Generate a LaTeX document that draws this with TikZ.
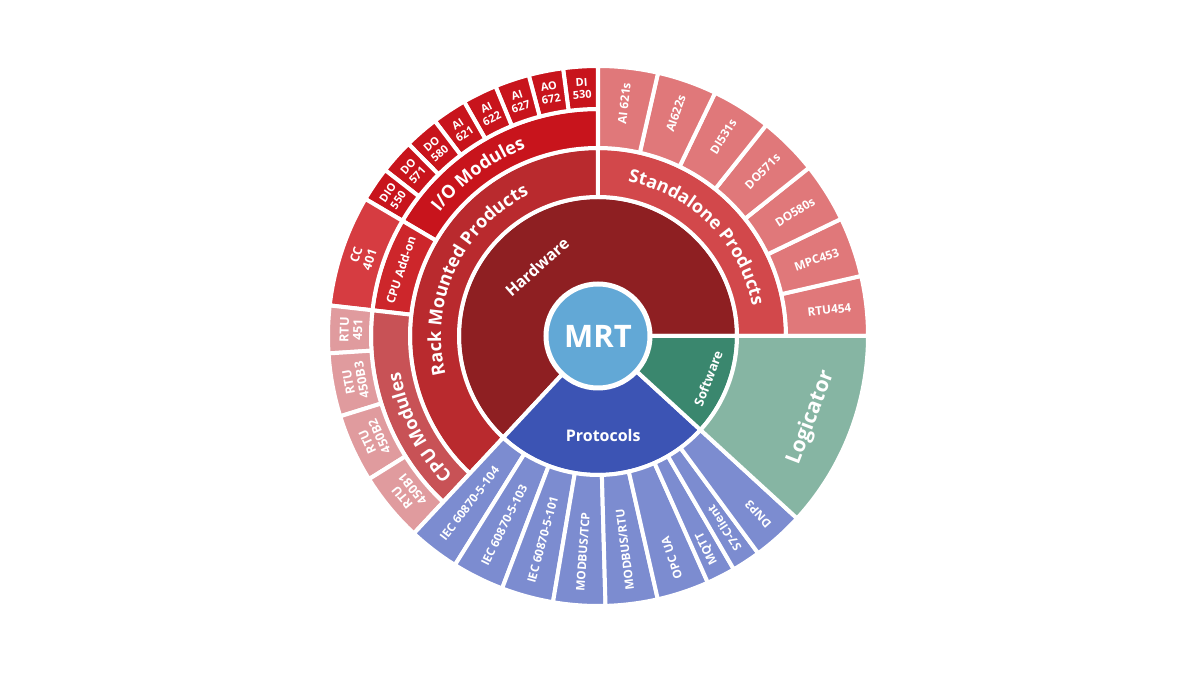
\documentclass[tikz,border=0pt]{standalone}
\usepackage{fontspec}
\setmainfont{Open Sans}
\usetikzlibrary{decorations.text}

\definecolor{mrtblue}{HTML}{62A8D6}
\definecolor{hwred}{HTML}{8E1F22}
\definecolor{rackred}{HTML}{B92A2E}
\definecolor{standred}{HTML}{D2484B}
\definecolor{standleaf}{HTML}{E0787A}
\definecolor{iored}{HTML}{C8141C}
\definecolor{addonred}{HTML}{CD262B}
\definecolor{ccred}{HTML}{D63C41}
\definecolor{cpured}{HTML}{C85256}
\definecolor{rtupink}{HTML}{E09B9E}
\definecolor{protoblue}{HTML}{3C54B4}
\definecolor{protoleaf}{HTML}{7C8CD0}
\definecolor{softgreen}{HTML}{3A876E}
\definecolor{logicgreen}{HTML}{86B5A3}

% sector: colour, inner radius, outer radius, start angle, end angle
\newcommand{\wedgeseg}[5]{%
  \filldraw[seg, fill=#1] (#4:#2pt) arc[start angle=#4, end angle=#5, radius=#2pt]
    -- (#5:#3pt) arc[start angle=#5, end angle=#4, radius=#3pt] -- cycle;}

\begin{document}
\begin{tikzpicture}[
    seg/.style={draw=white, line width=4pt, line join=round},
    leaf/.style={text=white, inner sep=0pt, font=\bfseries\fontsize{11.8}{13}\selectfont},
    pair/.style={text=white, inner sep=0pt, align=center, font=\bfseries\fontsize{11}{12.5}\selectfont},
    label/.style={text=white, inner sep=0pt, font=\bfseries\fontsize{16}{16}\selectfont},
    curved/.style={decorate, decoration={text along path, text color=white,
        text align=center, text={|\bfseries\fontsize{18}{18}\selectfont|#1}}}
]
    \useasboundingbox (-598pt,-340pt) rectangle (602pt,336pt);

    % inner ring
    \wedgeseg{hwred}{40}{139}{0}{227}
    \wedgeseg{protoblue}{40}{139}{227}{317.5}
    \wedgeseg{softgreen}{40}{139}{317.5}{360}

    % second ring
    \wedgeseg{standred}{139}{188}{0}{90}
    \wedgeseg{rackred}{139}{188}{90}{227}

    % third ring
    \wedgeseg{iored}{188}{227}{90}{149.5}
    \wedgeseg{addonred}{188}{227}{149.5}{173.5}
    \wedgeseg{cpured}{188}{227}{173.5}{227}

    % standalone leaves
    \foreach \lbl [count=\i from 0] in {RTU454,MPC453,DO580s,DO571s,DI531s,AI622s,AI 621s} {
        \pgfmathsetmacro\a{12.857*\i}
        \pgfmathsetmacro\b{12.857*(\i+1)}
        \pgfmathsetmacro\m{12.857*(\i+0.5)}
        \wedgeseg{standleaf}{188}{270}{\a}{\b}
        \node[leaf, anchor=east, rotate=\m] (sa\i) at (\m:255pt) {\lbl};
    }

    % I/O leaves
    \foreach \lbl [count=\i from 0] in {{DI\\530},{AO\\672},{AI\\627},{AI\\622},
            {AI\\621},{DO\\580},{DO\\571},{DIO\\550}} {
        \pgfmathsetmacro\a{90+7.4375*\i}
        \pgfmathsetmacro\b{90+7.4375*(\i+1)}
        \pgfmathsetmacro\m{90+7.4375*(\i+0.5)}
        \wedgeseg{iored}{227}{270}{\a}{\b}
        \node[pair, rotate=\m-90] (io\i) at (\m:248pt) {\lbl};
    }

    % CPU add-on leaf
    \wedgeseg{ccred}{227}{270}{149.5}{173.5}
    \node[pair, rotate=71.5, font=\bfseries\fontsize{12.5}{14}\selectfont] (cc) at (161.5:248pt) {CC\\401};

    % CPU module leaves
    \foreach \a/\b/\lbl [count=\i] in {173.5/183.7/{RTU\\451},183.7/197.3/{RTU\\450B3},
            197.3/212/{RTU\\450B2},212/227/{RTU\\450B1}} {
        \pgfmathsetmacro\m{(\a+\b)/2}
        \wedgeseg{rtupink}{227}{270}{\a}{\b}
        \node[pair, rotate=\m-90, font=\bfseries\fontsize{12.5}{13.5}\selectfont] (rtu\i) at (\m:247pt) {\lbl};
    }

    % protocol leaves
    \foreach \a/\b/\lbl [count=\i] in {227/238/IEC 60870-5-104,238/249.2/IEC 60870-5-103,
            249.2/260.4/IEC 60870-5-101,260.4/271.6/{MODBUS/TCP},271.6/282.8/{MODBUS/RTU},
            282.8/294/OPC UA,294/300.2/MQTT,300.2/306.4/S7-Client,306.4/317.5/DNP3} {
        \pgfmathsetmacro\m{(\a+\b)/2}
        \wedgeseg{protoleaf}{139}{270}{\a}{\b}
        \node[leaf, anchor=west, rotate=\m-180] (pr\i) at (\m:256pt) {\lbl};
    }

    % software leaf
    \wedgeseg{logicgreen}{139}{270}{317.5}{360}

    % centre
    \node[circle, fill=mrtblue, draw=white, line width=5pt, minimum size=104pt,
        inner sep=0pt, text=white, font=\bfseries\fontsize{31}{31}\selectfont] (mrt) at (0,0) {MRT};

    % ring labels
    \node[label, rotate=41.5] (hw) at (131.5:92pt) {Hardware};
    \node[label] (proto) at (273:100pt) {Protocols};
    \node[label, rotate=69, font=\bfseries\fontsize{13}{13}\selectfont] (soft) at (-21:118pt) {Software};
    \node[label, rotate=69, font=\bfseries\fontsize{21}{21}\selectfont] (logic) at (-21:228pt) {Logicator};
    \node[label, rotate=71.5, font=\bfseries\fontsize{12}{12}\selectfont] (addon) at (161.5:208pt) {CPU Add-on};

    \path[curved={Standalone Products}] (90:157pt) arc[start angle=90, end angle=0, radius=157pt];
    \path[curved={Rack Mounted Products}] (225:157pt) arc[start angle=225, end angle=85, radius=157pt];
    \path[curved={I/O Modules}] (150:201pt) arc[start angle=150, end angle=103, radius=201pt];
    \path[curved={CPU Modules}] (227:201pt) arc[start angle=227, end angle=187, radius=201pt];
\end{tikzpicture}
\end{document}
